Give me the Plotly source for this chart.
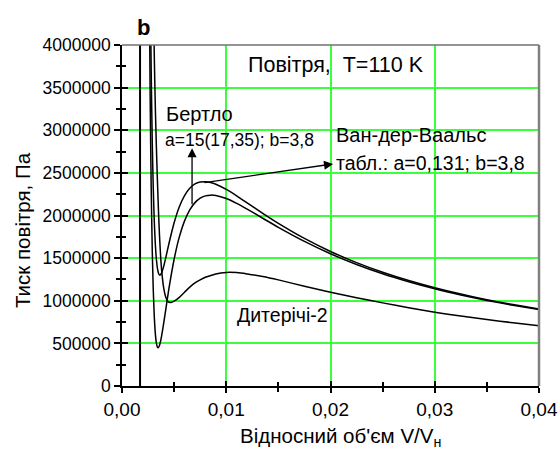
import plotly.graph_objects as go

# ---- data ----
vdw_x = [0.0026, 0.0027, 0.0028, 0.0029, 0.0030, 0.0031, 0.0032, 0.0033, 0.0034, 0.0035,
         0.0036, 0.0037, 0.0038, 0.0040, 0.0042, 0.0045, 0.0050, 0.0055, 0.0060, 0.0065,
         0.0070, 0.0075, 0.0080, 0.0085, 0.0090, 0.0100, 0.0110, 0.0120, 0.0135, 0.0150,
         0.0175, 0.0200, 0.0225, 0.0250, 0.0275, 0.0300, 0.0325, 0.0350, 0.0375, 0.0400]
vdw_p = [6560000, 4870000, 3695000, 2876000, 2310000, 1920000, 1656000, 1484000, 1380000, 1323000,
         1302000, 1306000, 1327000, 1405000, 1506000, 1669000, 1915000, 2103000, 2234000, 2320000,
         2370000, 2393000, 2397000, 2387000, 2367000, 2306000, 2231000, 2149000, 2026000, 1908000,
         1731000, 1578000, 1447000, 1334000, 1237000, 1152000, 1078000, 1013000, 955000, 903000]

bert_x = vdw_x
bert_p = [4980000, 3400000, 2331000, 1606000, 1122000, 808000, 612000, 503000, 455000, 451000,
          477000, 525000, 587000, 737000, 900000, 1141000, 1487000, 1749000, 1937000, 2067000,
          2151000, 2203000, 2230000, 2239000, 2235000, 2199000, 2142000, 2075000, 1968000, 1861000,
          1696000, 1551000, 1426000, 1317000, 1223000, 1140000, 1068000, 1004000, 947000, 896000]

diet_x = [0.0029, 0.0030, 0.0031, 0.0032, 0.0033, 0.0034, 0.0035, 0.0036, 0.0037, 0.0038,
          0.0040, 0.0042, 0.0044, 0.0047, 0.0050, 0.0055, 0.0060, 0.0065, 0.0070, 0.0075,
          0.0080, 0.0090, 0.0100, 0.0110, 0.0120, 0.0135, 0.0150, 0.0175, 0.0200, 0.0225,
          0.0250, 0.0275, 0.0300, 0.0325, 0.0350, 0.0375, 0.0400]
diet_p = [5500000, 4700000, 3850000, 3250000, 2800000, 2400000, 2050000, 1760000, 1530000, 1360000,
          1150000, 1040000, 990000, 980000, 995000, 1040000, 1100000, 1160000, 1210000, 1245000,
          1275000, 1315000, 1332000, 1330000, 1315000, 1285000, 1245000, 1170000, 1100000, 1035000,
          975000, 918000, 865000, 820000, 780000, 742000, 708000]

asym_x = [0.00173, 0.00173]
asym_p = [0, 4000000]

x_ticks = [0.0, 0.01, 0.02, 0.03, 0.04]
x_labels = ["0,00", "0,01", "0,02", "0,03", "0,04"]
y_ticks = [0, 500000, 1000000, 1500000, 2000000, 2500000, 3000000, 3500000, 4000000]
y_labels = [str(v) for v in y_ticks]

# arrows: (head, tail) in data units
bert_arrow = dict(head=(0.00672, 2790000), tail=(0.00672, 2114000))
vdw_arrow = dict(head=(0.02025, 2605000), tail=(0.00777, 2383000))

FONT = "Liberation Sans, Arial, sans-serif"
GRID = "#3CFF3C"

fig = go.Figure()
line = dict(color="black", width=1.5, shape="spline", smoothing=0.6)
for xs, ps, nm in [(vdw_x, vdw_p, "Ван-дер-Ваальс"), (bert_x, bert_p, "Бертло"),
                   (diet_x, diet_p, "Дитерічі-2")]:
    fig.add_trace(go.Scatter(x=xs, y=ps, mode="lines", line=line, name=nm, showlegend=False))
fig.add_trace(go.Scatter(x=asym_x, y=asym_p, mode="lines", line=dict(color="black", width=2),
                         showlegend=False))
# dummy trace for the overlay axes (inside ticks)
fig.add_trace(go.Scatter(x=[0.02], y=[-1e7], xaxis="x2", yaxis="y2", mode="markers",
                         marker=dict(opacity=0), showlegend=False, hoverinfo="skip"))

def xaxis_cfg(side_ticks, labels):
    return dict(range=[0, 0.04], tickvals=x_ticks, ticktext=x_labels, ticklen=5, tickwidth=1.5,
                tickcolor="black", showline=True, linecolor="black", linewidth=1.5,
                zeroline=False, automargin=False, ticks=side_ticks, showticklabels=labels,
                tickfont=dict(size=19, family=FONT),
                minor=dict(dtick=0.005, tick0=0, ticklen=4, tickwidth=1.5, tickcolor="black",
                           ticks=side_ticks))

def yaxis_cfg(side_ticks, labels):
    return dict(range=[0, 4000000], tickvals=y_ticks, ticktext=y_labels, ticklen=6, tickwidth=1.5,
                tickcolor="black", showline=True, linecolor="black", linewidth=1.5,
                zeroline=False, automargin=False, ticks=side_ticks, showticklabels=labels,
                tickfont=dict(size=17.5, family=FONT),
                minor=dict(dtick=250000, tick0=0, ticklen=4, tickwidth=1.5, tickcolor="black",
                           ticks=side_ticks))

fig.update_layout(
    width=560, height=450,
    margin=dict(l=122, r=21, t=45, b=64, autoexpand=False),
    paper_bgcolor="white", plot_bgcolor="white",
    font=dict(family=FONT, color="black"),
    showlegend=False,
    xaxis=dict(**xaxis_cfg("outside", True), showgrid=True, gridcolor=GRID, gridwidth=1.5),
    yaxis=dict(**yaxis_cfg("outside", True), showgrid=True, gridcolor=GRID, gridwidth=1.5),
    xaxis2=dict(**xaxis_cfg("inside", False), overlaying="x", anchor="y2", showgrid=False),
    yaxis2=dict(**yaxis_cfg("inside", False), overlaying="y", anchor="x2", showgrid=False),
)

# frame top/right
fig.add_shape(type="line", xref="paper", yref="paper", x0=0, x1=1, y0=1, y1=1,
              line=dict(color="#707070", width=1.5))
fig.add_shape(type="line", xref="paper", yref="paper", x0=1, x1=1, y0=0, y1=1,
              line=dict(color="#808080", width=2.5))

def px(xp, yp):
    return (xp - 122) / 417.0, (386 - yp) / 341.0

def label(text, xpix, ypix, size, xanchor="left", bold=False, angle=0):
    x, y = px(xpix, ypix)
    fig.add_annotation(text=("<b>%s</b>" % text) if bold else text, x=x, y=y, xref="paper",
                       yref="paper", showarrow=False, xanchor=xanchor, yanchor="middle",
                       textangle=angle, font=dict(size=size, family=FONT, color="black"))

label("b", 143, 27, 22, xanchor="center", bold=True)
label("Повітря,\u00a0\u00a0T=110 K", 246, 65, 21.5)
label("Бертло", 164, 114, 20)
label("a=15(17,35); b=3,8", 163, 140, 17.5)
label("Ван-дер-Ваальс", 334, 135, 20)
label("табл.: a=0,131; b=3,8", 334, 163, 19.5)
label("Дитерічі-2", 235, 315, 19.5)
label("Відносний об'єм V/V<sub>н</sub>", 340, 437, 20.5, xanchor="center")
label("Тиск повітря, Па", 22, 230, 20.5, xanchor="center", angle=-90)

for arr in (bert_arrow, vdw_arrow):
    fig.add_annotation(x=arr["head"][0], y=arr["head"][1], ax=arr["tail"][0], ay=arr["tail"][1],
                       xref="x", yref="y", axref="x", ayref="y", text="", showarrow=True,
                       arrowhead=2, arrowsize=1.4, arrowwidth=1.3, arrowcolor="black", standoff=0)

fig.write_html("out.html")
